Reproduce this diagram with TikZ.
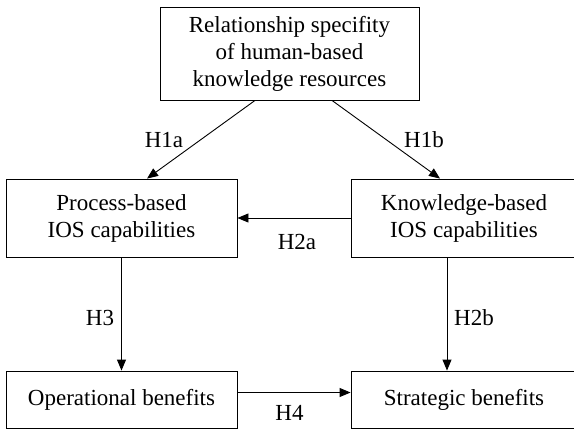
\documentclass[tikz,border=0pt]{standalone}
\usepackage{fontspec}
\setmainfont{Liberation Serif}
\usepackage{tikz}
\usetikzlibrary{arrows.meta}
\tikzset{model box/.style={draw,line width=0.9pt,align=center,inner sep=0pt},
	hyp arrow/.style={line width=0.9pt,-{Triangle[length=11pt,width=9pt]}},
	hyp label/.style={inner sep=0pt}}

\begin{document}
\begin{tikzpicture}[x=1pt,y=-1pt,font=\fontsize{23}{27}\selectfont]
			\useasboundingbox (0,0) rectangle (574,429);
			\node[model box,minimum width=259pt,minimum height=93pt] (res) at (289.5,53.5)
				{Relationship specifity\\of human-based\\knowledge resources};
			\node[model box,minimum width=231pt,minimum height=78pt] (proc) at (121.5,218)
				{Process-based\\IOS capabilities};
			\node[model box,minimum width=226pt,minimum height=78pt] (know) at (464,218)
				{Knowledge-based\\IOS capabilities};
			\node[model box,minimum width=231pt,minimum height=57pt] (oper) at (121.5,399.5)
				{Operational benefits};
			\node[model box,minimum width=226pt,minimum height=57pt] (strat) at (464,399.5)
				{Strategic benefits};
			% Hypotheses
			\draw[hyp arrow] ([xshift=-34.5pt]res.south) -- ([xshift=25.5pt]proc.north);
			\draw[hyp arrow] ([xshift=42.5pt]res.south) -- ([xshift=-24pt]know.north);
			\draw[hyp arrow] (know.west) -- (proc.east);
			\draw[hyp arrow] (proc.south) -- (oper.north);
			\draw[hyp arrow] ([xshift=-17pt]know.south) -- ([xshift=-17pt]strat.north);
			\draw[hyp arrow] ([yshift=7pt]oper.east) -- ([yshift=7pt]strat.west);
			\node[hyp label] (h1a) at (164,140) {H1a};
			\node[hyp label] (h1b) at (424,140) {H1b};
			\node[hyp label] (h2a) at (297,242) {H2a};
			\node[hyp label] (h3) at (100,318) {H3};
			\node[hyp label] (h2b) at (474,318) {H2b};
			\node[hyp label] (h4) at (289.5,413) {H4};
		\end{tikzpicture}
\end{document}
